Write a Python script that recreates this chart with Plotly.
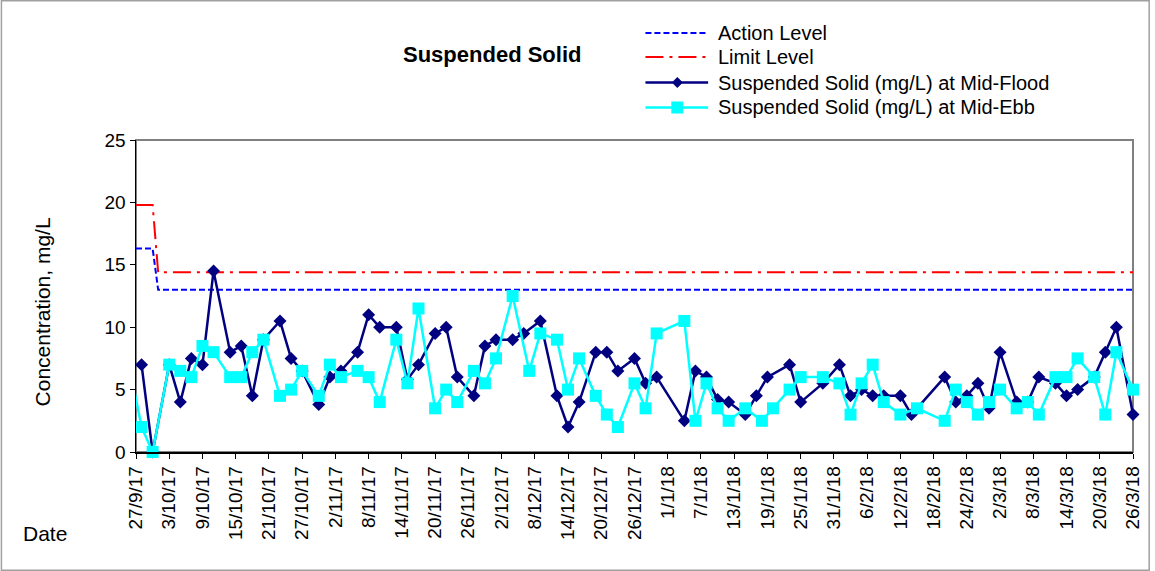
import plotly.graph_objects as go

# ---------------- data ----------------
flood_dates = [
    "2017-09-28", "2017-09-30", "2017-10-03", "2017-10-05", "2017-10-07", "2017-10-09",
    "2017-10-11", "2017-10-14", "2017-10-16", "2017-10-18", "2017-10-20", "2017-10-23",
    "2017-10-25", "2017-10-27", "2017-10-30", "2017-11-01", "2017-11-03", "2017-11-06",
    "2017-11-08", "2017-11-10", "2017-11-13", "2017-11-15", "2017-11-17", "2017-11-20",
    "2017-11-22", "2017-11-24", "2017-11-27", "2017-11-29", "2017-12-01", "2017-12-04",
    "2017-12-06", "2017-12-09", "2017-12-12", "2017-12-14", "2017-12-16", "2017-12-19",
    "2017-12-21", "2017-12-23", "2017-12-26", "2017-12-28", "2017-12-30", "2018-01-04",
    "2018-01-06", "2018-01-08", "2018-01-10", "2018-01-12", "2018-01-15", "2018-01-17",
    "2018-01-19", "2018-01-23", "2018-01-25", "2018-01-29", "2018-02-01", "2018-02-03",
    "2018-02-05", "2018-02-07", "2018-02-09", "2018-02-12", "2018-02-14", "2018-02-20",
    "2018-02-22", "2018-02-24", "2018-02-26", "2018-02-28", "2018-03-02", "2018-03-05",
    "2018-03-07", "2018-03-09", "2018-03-12", "2018-03-14", "2018-03-16", "2018-03-19",
    "2018-03-21", "2018-03-23", "2018-03-26",
]
flood_values = [
    7.0, 0.0, 7.0, 4.0, 7.5, 7.0,
    14.5, 8.0, 8.5, 4.5, 9.0, 10.5,
    7.5, 6.5, 3.8, 6.0, 6.5, 8.0,
    11.0, 10.0, 10.0, 5.8, 7.0, 9.5,
    10.0, 6.0, 4.5, 8.5, 9.0, 9.0,
    9.5, 10.5, 4.5, 2.0, 4.0, 8.0,
    8.0, 6.5, 7.5, 5.5, 6.0, 2.5,
    6.5, 6.0, 4.2, 4.0, 3.0, 4.5,
    6.0, 7.0, 4.0, 5.5, 7.0, 4.5,
    5.0, 4.5, 4.5, 4.5, 3.0, 6.0,
    4.0, 4.5, 5.5, 3.5, 8.0, 4.0,
    4.0, 6.0, 5.5, 4.5, 5.0, 6.0,
    8.0, 10.0, 3.0,
]

ebb_dates = [
    "2017-09-26", "2017-09-28", "2017-09-30", "2017-10-03", "2017-10-05", "2017-10-07",
    "2017-10-09", "2017-10-11", "2017-10-14", "2017-10-16", "2017-10-18", "2017-10-20",
    "2017-10-23", "2017-10-25", "2017-10-27", "2017-10-30", "2017-11-01", "2017-11-03",
    "2017-11-06", "2017-11-08", "2017-11-10", "2017-11-13", "2017-11-15", "2017-11-17",
    "2017-11-20", "2017-11-22", "2017-11-24", "2017-11-27", "2017-11-29", "2017-12-01",
    "2017-12-04", "2017-12-07", "2017-12-09", "2017-12-12", "2017-12-14", "2017-12-16",
    "2017-12-19", "2017-12-21", "2017-12-23", "2017-12-26", "2017-12-28", "2017-12-30",
    "2018-01-04", "2018-01-06", "2018-01-08", "2018-01-10", "2018-01-12", "2018-01-15",
    "2018-01-18", "2018-01-20", "2018-01-23", "2018-01-25", "2018-01-29", "2018-02-01",
    "2018-02-03", "2018-02-05", "2018-02-07", "2018-02-09", "2018-02-12", "2018-02-15",
    "2018-02-20", "2018-02-22", "2018-02-24", "2018-02-26", "2018-02-28", "2018-03-02",
    "2018-03-05", "2018-03-07", "2018-03-09", "2018-03-12", "2018-03-14", "2018-03-16",
    "2018-03-19", "2018-03-21", "2018-03-23", "2018-03-26",
]
ebb_values = [
    6.5, 2.0, 0.0, 7.0, 6.5, 6.0,
    8.5, 8.0, 6.0, 6.0, 8.0, 9.0,
    4.5, 5.0, 6.5, 4.5, 7.0, 6.0,
    6.5, 6.0, 4.0, 9.0, 5.5, 11.5,
    3.5, 5.0, 4.0, 6.5, 5.5, 7.5,
    12.5, 6.5, 9.5, 9.0, 5.0, 7.5,
    4.5, 3.0, 2.0, 5.5, 3.5, 9.5,
    10.5, 2.5, 5.5, 3.5, 2.5, 3.5,
    2.5, 3.5, 5.0, 6.0, 6.0, 5.5,
    3.0, 5.5, 7.0, 4.0, 3.0, 3.5,
    2.5, 5.0, 4.0, 3.0, 4.0, 5.0,
    3.5, 4.0, 3.0, 6.0, 6.0, 7.5,
    6.0, 3.0, 8.0, 5.0,
]

level_dates = ["2017-09-27", "2017-09-30", "2017-10-01", "2018-03-26"]
action_level = [16.3, 16.3, 13.0, 13.0]
limit_level = [19.8, 19.8, 14.4, 14.4]

x_range = ["2017-09-27", "2018-03-26"]
y_ticks = [0, 5, 10, 15, 20, 25]

series_names = [
    "Action Level",
    "Limit Level",
    "Suspended Solid (mg/L) at Mid-Flood",
    "Suspended Solid (mg/L) at Mid-Ebb",
]

# ---------------- layout geometry (page pixels) ----------------
W, H = 1155, 571
PLOT_L, PLOT_R, PLOT_T, PLOT_B = 136, 1138, 140, 452
L, T, R, B = PLOT_L, PLOT_T, W - PLOT_R, H - PLOT_B
PW, PH = PLOT_R - PLOT_L, PLOT_B - PLOT_T


def px(xp):
    return (xp - PLOT_L) / PW


def py(yp):
    return (PLOT_B - yp) / PH


FONT = "Liberation Sans, Arial, sans-serif"
C_ACTION, C_LIMIT, C_FLOOD, C_EBB = "#0000FF", "#FF0000", "#000080", "#00FFFF"
DASH_ACTION, DASH_LIMIT = "6px,3px", "18px,6px,3px,6px"

fig = go.Figure()

fig.add_trace(go.Scatter(
    x=level_dates, y=action_level, mode="lines", name=series_names[0],
    line=dict(color=C_ACTION, width=2, dash=DASH_ACTION), showlegend=False,
))
fig.add_trace(go.Scatter(
    x=level_dates, y=limit_level, mode="lines", name=series_names[1],
    line=dict(color=C_LIMIT, width=2, dash=DASH_LIMIT), showlegend=False,
))
fig.add_trace(go.Scatter(
    x=flood_dates, y=flood_values, mode="lines+markers", name=series_names[2],
    line=dict(color=C_FLOOD, width=2.5),
    marker=dict(symbol="diamond", size=10, color=C_FLOOD),
    cliponaxis=False, showlegend=False,
))
# lead-in segment of the ebb series from a date before the axis start (clipped)
fig.add_trace(go.Scatter(
    x=ebb_dates[:2], y=ebb_values[:2], mode="lines", showlegend=False,
    line=dict(color=C_EBB, width=2.5), hoverinfo="skip",
))
fig.add_trace(go.Scatter(
    x=ebb_dates[1:], y=ebb_values[1:], mode="lines+markers", name=series_names[3],
    line=dict(color=C_EBB, width=2.5),
    marker=dict(symbol="square", size=12, color=C_EBB),
    cliponaxis=False, showlegend=False,
))

# ---------------- hand-drawn legend ----------------
leg_rows = [33, 57, 82.5, 107.5]
leg_x0, leg_x1, leg_tx, leg_mx = 648, 711, 719, 680
shapes = [
    # plot-area border (grey)
    dict(type="rect", xref="paper", yref="paper", x0=0, x1=1, y0=0, y1=1,
         line=dict(color="#808080", width=2), layer="below"),
    # chart-area border
    dict(type="rect", xref="paper", yref="paper",
         x0=px(0.75), x1=px(W - 0.75), y0=py(H - 0.75), y1=py(0.75),
         line=dict(color="#A0A0A0", width=1.5), layer="below"),
]
annotations = []
styles = [
    (C_ACTION, 2, DASH_ACTION, None),
    (C_LIMIT, 2, DASH_LIMIT, None),
    (C_FLOOD, 2.5, "solid", "diamond"),
    (C_EBB, 2.5, "solid", "square"),
]
for row_y, name, (col, lw, dash, sym) in zip(leg_rows, series_names, styles):
    shapes.append(dict(type="line", xref="paper", yref="paper",
                       x0=px(leg_x0), x1=px(leg_x1), y0=py(row_y), y1=py(row_y),
                       line=dict(color=col, width=lw, dash=dash)))
    if sym == "diamond":
        r = 5
        path = (f"M{px(leg_mx - r)},{py(row_y)} L{px(leg_mx)},{py(row_y - r)} "
                f"L{px(leg_mx + r)},{py(row_y)} L{px(leg_mx)},{py(row_y + r)} Z")
        shapes.append(dict(type="path", xref="paper", yref="paper", path=path,
                           fillcolor=col, line=dict(color=col, width=1)))
    elif sym == "square":
        r = 6
        shapes.append(dict(type="rect", xref="paper", yref="paper",
                           x0=px(leg_mx - r), x1=px(leg_mx + r),
                           y0=py(row_y + r), y1=py(row_y - r),
                           fillcolor=col, line=dict(color=col, width=0)))
    annotations.append(dict(text=name, xref="paper", yref="paper",
                            x=px(leg_tx), y=py(row_y), xanchor="left", yanchor="middle",
                            showarrow=False, font=dict(size=20)))

annotations += [
    dict(text="<b>Suspended Solid</b>", xref="paper", yref="paper",
         x=px(494), y=py(54), xanchor="center", yanchor="middle",
         showarrow=False, font=dict(size=22)),
    dict(text="Concentration, mg/L", xref="paper", yref="paper",
         x=px(42), y=py(312), xanchor="center", yanchor="middle",
         textangle=-90, showarrow=False, font=dict(size=21)),
    dict(text="Date", xref="paper", yref="paper",
         x=px(45), y=py(533), xanchor="center", yanchor="middle",
         showarrow=False, font=dict(size=21)),
]

fig.update_layout(
    width=W, height=H,
    margin=dict(l=L, r=R, t=T, b=B, pad=0),
    paper_bgcolor="white", plot_bgcolor="white",
    font=dict(family=FONT, size=18, color="black"),
    showlegend=False,
    hovermode=False,
    xaxis=dict(
        type="date", range=x_range,
        tick0="2017-09-27", dtick=6 * 86400000,
        tickformat="%-d/%-m/%y", tickangle=-90,
        tickfont=dict(size=19),
        ticks="outside", ticklen=5, tickcolor="black",
        showline=True, linecolor="black", linewidth=1.5,
        showgrid=False, zeroline=False,
    ),
    yaxis=dict(
        range=[0, 25], tickvals=y_ticks,
        tickfont=dict(size=19),
        ticks="outside", ticklen=5, tickcolor="black",
        showline=True, linecolor="black", linewidth=1.5,
        showgrid=False, zeroline=False,
    ),
    shapes=shapes,
    annotations=annotations,
)

fig.write_html(
    "out.html",
    config={"displayModeBar": False, "staticPlot": True},
    post_script="document.body.style.margin='0';document.body.style.overflow='hidden';",
)
